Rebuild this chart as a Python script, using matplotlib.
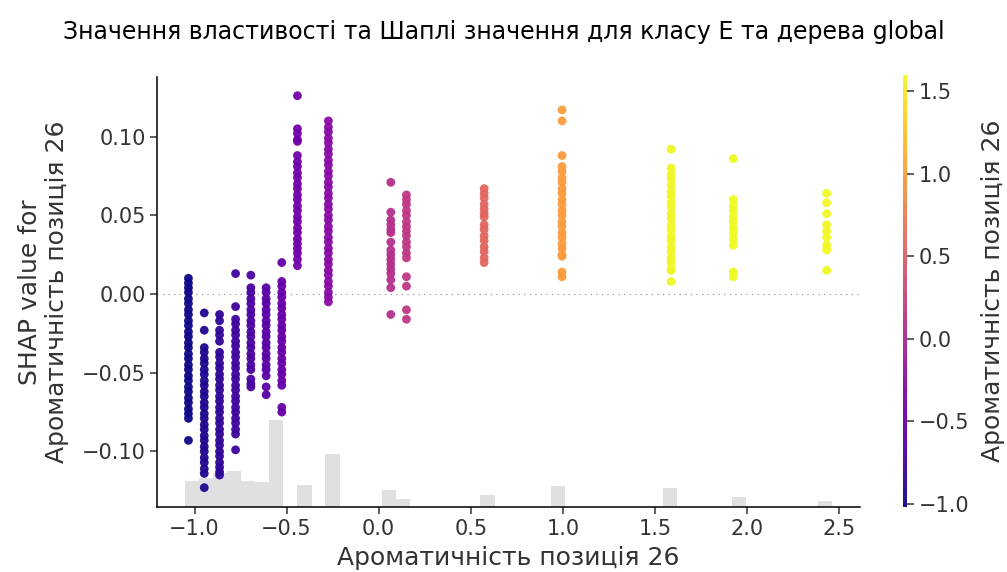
import matplotlib
matplotlib.use("Agg")
import matplotlib.pyplot as plt
import numpy as np

# feature value of each column of points (also used for colour)
feature_values = [-1.033, -0.947, -0.864, -0.777, -0.694, -0.611, -0.526, -0.441,
                  -0.273, 0.066, 0.151, 0.573, 0.996, 1.588, 1.926, 2.433]

# SHAP values, one list per column
shap_a = [0.010, 0.007, 0.004, 0.001, -0.003, -0.006, -0.010, -0.013, -0.017, -0.020,
          -0.024, -0.027, -0.031, -0.034, -0.038, -0.041, -0.045, -0.048, -0.052, -0.055,
          -0.059, -0.062, -0.066, -0.069, -0.073, -0.076, -0.079, -0.093]
shap_b = [-0.012, -0.023, -0.034, -0.037, -0.041, -0.044, -0.048, -0.051, -0.055, -0.058,
          -0.062, -0.065, -0.069, -0.072, -0.076, -0.079, -0.083, -0.086, -0.090, -0.093,
          -0.097, -0.100, -0.104, -0.107, -0.111, -0.114, -0.123]
shap_c = [-0.013, -0.017, -0.023, -0.026, -0.030, -0.037, -0.040, -0.044, -0.047, -0.051,
          -0.054, -0.058, -0.061, -0.065, -0.068, -0.072, -0.075, -0.079, -0.082, -0.086,
          -0.089, -0.093, -0.096, -0.100, -0.103, -0.107, -0.110, -0.113, -0.115]
shap_d = [0.013, -0.008, -0.016, -0.019, -0.023, -0.026, -0.030, -0.033, -0.037, -0.040,
          -0.044, -0.047, -0.051, -0.054, -0.058, -0.061, -0.065, -0.068, -0.072, -0.075,
          -0.079, -0.082, -0.086, -0.089, -0.099]
shap_e = [0.012, 0.004, 0.001, -0.003, -0.006, -0.010, -0.013, -0.017, -0.020, -0.024,
          -0.027, -0.031, -0.034, -0.038, -0.041, -0.045, -0.048, -0.054, -0.057, -0.059]
shap_f = [0.004, 0.001, -0.003, -0.006, -0.010, -0.013, -0.017, -0.020, -0.024, -0.027,
          -0.031, -0.034, -0.038, -0.041, -0.045, -0.048, -0.052, -0.059, -0.064]
shap_g = [0.020, 0.008, 0.005, 0.001, -0.002, -0.006, -0.009, -0.013, -0.016, -0.020,
          -0.023, -0.027, -0.030, -0.034, -0.037, -0.041, -0.044, -0.048, -0.051, -0.055,
          -0.058, -0.072, -0.075]
shap_h = [0.126, 0.105, 0.102, 0.098, 0.097, 0.088, 0.084, 0.081, 0.077, 0.074,
          0.070, 0.067, 0.063, 0.060, 0.056, 0.053, 0.049, 0.046, 0.042, 0.039,
          0.035, 0.032, 0.029, 0.026, 0.022, 0.018]
shap_i = [0.110, 0.106, 0.103, 0.099, 0.096, 0.092, 0.089, 0.085, 0.082, 0.078,
          0.075, 0.071, 0.068, 0.064, 0.061, 0.057, 0.054, 0.050, 0.047, 0.043,
          0.040, 0.036, 0.033, 0.029, 0.026, 0.022, 0.019, 0.015, 0.012, 0.008,
          0.005, 0.001, -0.002, -0.005]
shap_j = [0.071, 0.052, 0.047, 0.044, 0.041, 0.039, 0.033, 0.028, 0.025, 0.022,
          0.019, 0.016, 0.013, 0.009, 0.004, -0.013]
shap_k = [0.063, 0.060, 0.057, 0.053, 0.050, 0.046, 0.043, 0.040, 0.037, 0.033,
          0.030, 0.026, 0.023, 0.011, 0.005, -0.010, -0.016]
shap_l = [0.067, 0.064, 0.061, 0.057, 0.054, 0.051, 0.049, 0.044, 0.041, 0.037,
          0.034, 0.030, 0.027, 0.023, 0.020]
shap_m = [0.117, 0.110, 0.088, 0.081, 0.078, 0.074, 0.071, 0.067, 0.064, 0.060,
          0.057, 0.053, 0.050, 0.046, 0.043, 0.039, 0.036, 0.032, 0.029, 0.025,
          0.024, 0.014, 0.011]
shap_n = [0.092, 0.080, 0.076, 0.073, 0.069, 0.065, 0.062, 0.058, 0.055, 0.051,
          0.048, 0.044, 0.041, 0.037, 0.034, 0.030, 0.027, 0.023, 0.020, 0.016,
          0.015, 0.008]
shap_o = [0.086, 0.060, 0.056, 0.053, 0.049, 0.046, 0.042, 0.039, 0.035, 0.031,
          0.014, 0.011]
shap_p = [0.064, 0.058, 0.051, 0.044, 0.040, 0.036, 0.031, 0.028, 0.015]

shap_columns = [shap_a, shap_b, shap_c, shap_d, shap_e, shap_f, shap_g, shap_h,
                shap_i, shap_j, shap_k, shap_l, shap_m, shap_n, shap_o, shap_p]

# background histogram of the feature (left bin edges and counts)
hist_bin_left = [-1.054, -0.978, -0.902, -0.824, -0.748, -0.670, -0.594, -0.441,
                 -0.289, 0.017, 0.093, 0.553, 0.935, 1.543, 1.921, 2.385]
hist_counts = [26, 29, 34, 36, 26, 25, 87, 22, 53, 17, 8, 12, 21, 19, 10, 6]
hist_bin_width = 0.0765

feature_name = "Ароматичність позиція 26"
title = "Значення властивості та Шаплі значення для класу E та дерева global"

xv = np.concatenate([[f] * len(c) for f, c in zip(feature_values, shap_columns)])
yv = np.concatenate(shap_columns)

plt.rcParams["axes.linewidth"] = 1.1
plt.rcParams["xtick.major.width"] = 1.1
plt.rcParams["ytick.major.width"] = 1.1
plt.rcParams["xtick.major.size"] = 5
plt.rcParams["ytick.major.size"] = 5

fig = plt.figure(figsize=(10.07, 5.72), dpi=100)
ax = fig.add_axes([0.1564, 0.1131, 0.6976, 0.7523])
cax = fig.add_axes([0.897, 0.1131, 0.004, 0.7560])

# histogram on a twin axis, kept behind the points
ax2 = ax.twinx()
ax2.bar(hist_bin_left, hist_counts, width=hist_bin_width, align="edge",
        color="#e0e0e0", linewidth=0)
ax2.set_ylim(0, 431)
ax2.set_yticks([])
for s in ax2.spines.values():
    s.set_visible(False)
ax.set_zorder(ax2.get_zorder() + 1)
ax.patch.set_visible(False)

sc = ax.scatter(xv, yv, c=xv, cmap="plasma", vmin=-1.02, vmax=1.60, s=40,
                linewidths=0, alpha=0.95)
ax.axhline(0, color="#888888", lw=0.8, dashes=(1, 4), zorder=-1)

ax.set_xlim(-1.201, 2.614)
ax.set_ylim(-0.1355, 0.1379)
ax.set_xticks([-1.0, -0.5, 0.0, 0.5, 1.0, 1.5, 2.0, 2.5])
ax.set_yticks([-0.10, -0.05, 0.00, 0.05, 0.10])
ax.spines["top"].set_visible(False)
ax.spines["right"].set_visible(False)
ax.tick_params(labelsize=15, colors="#333333", labelcolor="#333333")
ax.set_xlabel(feature_name, fontsize=18, color="#333333", labelpad=5)
ax.set_ylabel("SHAP value for\n" + feature_name, fontsize=18, color="#333333",
              labelpad=9)

cb = fig.colorbar(sc, cax=cax, ticks=[-1.0, -0.5, 0.0, 0.5, 1.0, 1.5])
cb.outline.set_visible(False)
cb.ax.tick_params(labelsize=15, length=5, colors="#333333")
cb.set_label(feature_name, size=18, color="#333333", labelpad=8)

fig.suptitle(title, fontsize=17, y=0.965)

fig.savefig("out.png", dpi=100)
